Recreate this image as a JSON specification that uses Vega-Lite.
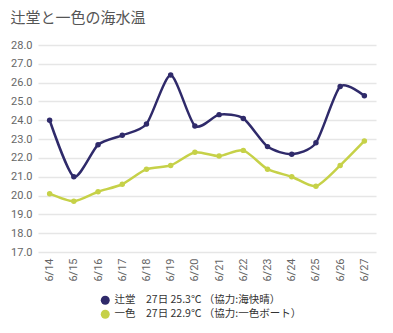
{
  "$schema": "https://vega.github.io/schema/vega-lite/v6.json",
  "width": 338,
  "height": 207,
  "padding": {"left": 10, "top": 11, "right": 10, "bottom": 8},
  "background": "white",
  "title": {"text": "辻堂と一色の海水温", "anchor": "start", "frame": "bounds", "fontSize": 15, "fontWeight": "normal", "color": "#555555", "font": "Noto Sans CJK JP", "offset": 13},
  "config": {"view": {"stroke": null}, "font": "Roboto"},
  "data": {"values": [
    {"date": "6/14", "s": "辻堂　27日 25.3℃ （協力:海快晴）", "v": 24.0},
    {"date": "6/15", "s": "辻堂　27日 25.3℃ （協力:海快晴）", "v": 21.0},
    {"date": "6/16", "s": "辻堂　27日 25.3℃ （協力:海快晴）", "v": 22.7},
    {"date": "6/17", "s": "辻堂　27日 25.3℃ （協力:海快晴）", "v": 23.2},
    {"date": "6/18", "s": "辻堂　27日 25.3℃ （協力:海快晴）", "v": 23.8},
    {"date": "6/19", "s": "辻堂　27日 25.3℃ （協力:海快晴）", "v": 26.4},
    {"date": "6/20", "s": "辻堂　27日 25.3℃ （協力:海快晴）", "v": 23.7},
    {"date": "6/21", "s": "辻堂　27日 25.3℃ （協力:海快晴）", "v": 24.3},
    {"date": "6/22", "s": "辻堂　27日 25.3℃ （協力:海快晴）", "v": 24.1},
    {"date": "6/23", "s": "辻堂　27日 25.3℃ （協力:海快晴）", "v": 22.6},
    {"date": "6/24", "s": "辻堂　27日 25.3℃ （協力:海快晴）", "v": 22.2},
    {"date": "6/25", "s": "辻堂　27日 25.3℃ （協力:海快晴）", "v": 22.8},
    {"date": "6/26", "s": "辻堂　27日 25.3℃ （協力:海快晴）", "v": 25.8},
    {"date": "6/27", "s": "辻堂　27日 25.3℃ （協力:海快晴）", "v": 25.3},
    {"date": "6/14", "s": "一色　27日 22.9℃ （協力:一色ボート）", "v": 20.1},
    {"date": "6/15", "s": "一色　27日 22.9℃ （協力:一色ボート）", "v": 19.7},
    {"date": "6/16", "s": "一色　27日 22.9℃ （協力:一色ボート）", "v": 20.2},
    {"date": "6/17", "s": "一色　27日 22.9℃ （協力:一色ボート）", "v": 20.6},
    {"date": "6/18", "s": "一色　27日 22.9℃ （協力:一色ボート）", "v": 21.4},
    {"date": "6/19", "s": "一色　27日 22.9℃ （協力:一色ボート）", "v": 21.6},
    {"date": "6/20", "s": "一色　27日 22.9℃ （協力:一色ボート）", "v": 22.3},
    {"date": "6/21", "s": "一色　27日 22.9℃ （協力:一色ボート）", "v": 22.1},
    {"date": "6/22", "s": "一色　27日 22.9℃ （協力:一色ボート）", "v": 22.4},
    {"date": "6/23", "s": "一色　27日 22.9℃ （協力:一色ボート）", "v": 21.4},
    {"date": "6/24", "s": "一色　27日 22.9℃ （協力:一色ボート）", "v": 21.0},
    {"date": "6/25", "s": "一色　27日 22.9℃ （協力:一色ボート）", "v": 20.5},
    {"date": "6/26", "s": "一色　27日 22.9℃ （協力:一色ボート）", "v": 21.6},
    {"date": "6/27", "s": "一色　27日 22.9℃ （協力:一色ボート）", "v": 22.9}
  ]},
  "encoding": {
    "x": {"field": "date", "type": "ordinal", "sort": null, "scale": {"type": "point", "padding": 0.48},
      "axis": {"title": null, "labelAngle": -90, "domain": false, "ticks": false, "grid": false, "labelColor": "#666666", "labelFontSize": 11, "labelPadding": 6, "labelBaseline": "middle", "labelAlign": "right"}},
    "y": {"field": "v", "type": "quantitative", "scale": {"domain": [17, 28], "nice": false, "zero": false},
      "axis": {"title": null, "values": [17,18,19,20,21,22,23,24,25,26,27,28], "format": ".1f", "domain": false, "ticks": false, "gridColor": "#e6e6e6", "gridWidth": 1.5, "labelColor": "#666666", "labelFontSize": 11, "labelPadding": 6}},
    "color": {"field": "s", "type": "nominal", "sort": null,
      "scale": {"range": ["#2f2a6a", "#c6d148"]},
      "legend": {"title": null, "orient": "none", "legendX": 62, "legendY": 250, "direction": "vertical", "symbolType": "circle", "symbolSize": 80, "symbolStrokeWidth": 0, "labelFontSize": 10.5, "labelColor": "#333333", "labelFont": "Noto Sans CJK JP", "labelLimit": 0, "rowPadding": 3, "padding": 0}}
  },
  "layer": [
    {"mark": {"type": "line", "interpolate": "cardinal", "tension": 0.3, "strokeWidth": 2.5}},
    {"mark": {"type": "point", "filled": true, "size": 30, "opacity": 1}}
  ]
}
